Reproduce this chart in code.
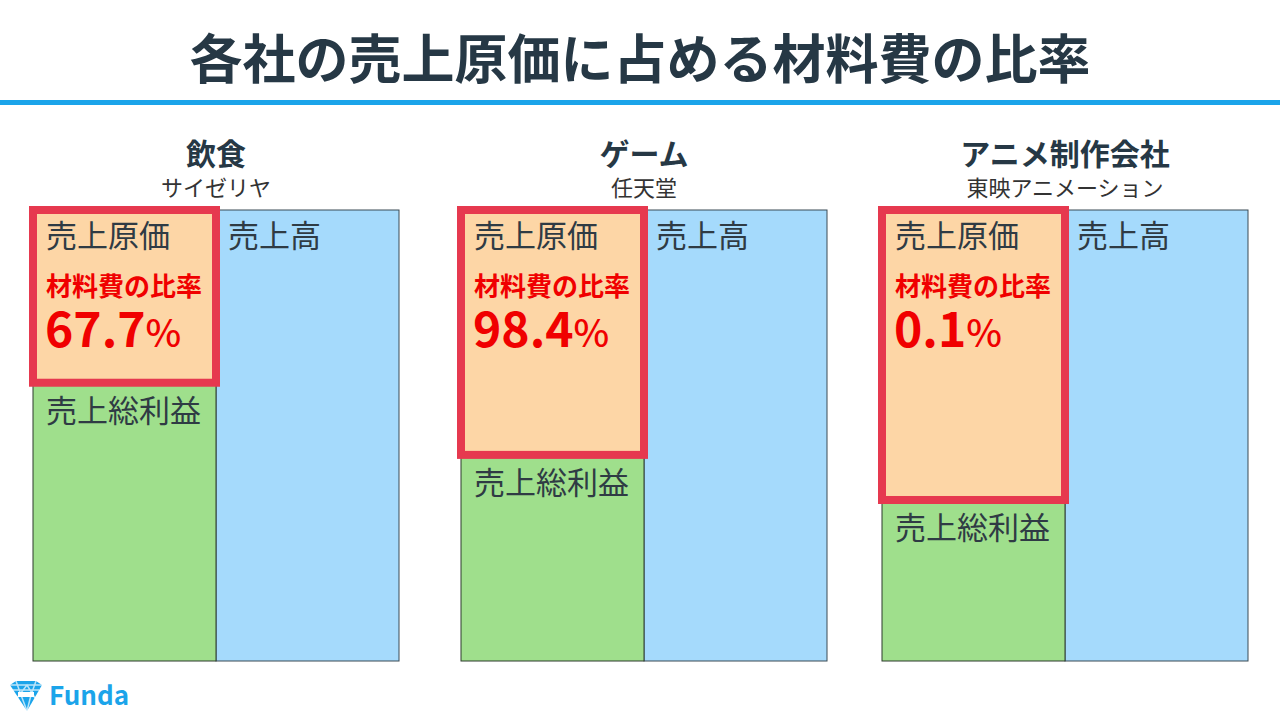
<!DOCTYPE html>
<html>
<head>
<meta charset="utf-8">
<script src="https://cdn.jsdelivr.net/npm/d3@7"></script>
<style>
  html, body { margin: 0; padding: 0; background: #fff; }
  text { font-family: "Noto Sans CJK JP", "Noto Sans", sans-serif; }
</style>
</head>
<body>
<div id="chart"></div>
<script>
"use strict";
// panels: industry, company, cost of sales share of sales (%), material share of cost (%)
var categories = ["飲食", "ゲーム", "アニメ制作会社"];
var companies = ["サイゼリヤ", "任天堂", "東映アニメーション"];
var costShare = [38.3, 54.3, 64.3];
var materialRatio = [67.7, 98.4, 0.1];

var w = 1280,
  h = 720,
  colW = 183;

var svg = d3
  .select("#chart")
  .append("svg")
  .attr("width", w)
  .attr("height", h);

// title + rule
svg
  .append("text")
  .attr("x", 640)
  .attr("y", 79)
  .attr("text-anchor", "middle")
  .attr("font-size", 53)
  .attr("font-weight", 700)
  .attr("fill", "#263845")
  .text("各社の売上原価に占める材料費の比率");

svg
  .append("rect")
  .attr("x", 0)
  .attr("y", 100)
  .attr("width", w)
  .attr("height", 5)
  .attr("fill", "#1ba4ea");

//panel centres (column boundary)
var x = d3
  .scaleOrdinal()
  .domain(categories)
  .range([216, 644, 1065]);

var y = d3
  .scaleLinear()
  .domain([0, 100])
  .range([210, 661]);

var panels = svg
  .selectAll(".panel")
  .data(categories)
  .enter()
  .append("g")
  .attr("class", "panel")
  .attr("transform", function(d) {
    return "translate(" + x(d) + ",0)";
  });

panels
  .append("text")
  .attr("y", 165)
  .attr("text-anchor", "middle")
  .attr("font-size", 30)
  .attr("font-weight", 700)
  .attr("fill", "#263845")
  .text(function(d) {
    return d;
  });

panels
  .append("text")
  .attr("y", 196)
  .attr("text-anchor", "middle")
  .attr("font-size", 22)
  .attr("fill", "#333")
  .text(function(d, i) {
    return companies[i];
  });

// sales column (right)
panels
  .append("rect")
  .attr("x", 0)
  .attr("y", y(0))
  .attr("width", colW)
  .attr("height", y(100) - y(0))
  .attr("fill", "#a5dafc")
  .attr("stroke", "#3a4a55")
  .attr("stroke-width", 1);

// gross profit (left, below cost)
panels
  .append("rect")
  .attr("x", -colW)
  .attr("y", function(d, i) {
    return y(costShare[i]);
  })
  .attr("width", colW)
  .attr("height", function(d, i) {
    return y(100) - y(costShare[i]);
  })
  .attr("fill", "#9fdf8c")
  .attr("stroke", "#2d3a2d")
  .attr("stroke-width", 1);

// cost of sales (left, top)
panels
  .append("rect")
  .attr("x", -colW)
  .attr("y", y(0))
  .attr("width", colW)
  .attr("height", function(d, i) {
    return y(costShare[i]) - y(0);
  })
  .attr("fill", "#fdd6a6");

// red highlight around cost
panels
  .append("rect")
  .attr("x", -colW)
  .attr("y", y(0))
  .attr("width", colW)
  .attr("height", function(d, i) {
    return y(costShare[i]) - y(0);
  })
  .attr("fill", "none")
  .attr("stroke", "#e6394f")
  .attr("stroke-width", 8);

panels
  .append("text")
  .attr("x", -colW + 13)
  .attr("y", 247)
  .attr("font-size", 31)
  .attr("fill", "#2f3b44")
  .text("売上原価");

panels
  .append("text")
  .attr("x", 12)
  .attr("y", 247)
  .attr("font-size", 31)
  .attr("fill", "#2f3b44")
  .text("売上高");

panels
  .append("text")
  .attr("x", function(d, i) {
    return -colW + 13;
  })
  .attr("y", function(d, i) {
    return y(costShare[i]) + 39;
  })
  .attr("font-size", 31)
  .attr("fill", "#2f3b44")
  .text("売上総利益");

panels
  .append("text")
  .attr("x", -colW + 13)
  .attr("y", 296)
  .attr("font-size", 26)
  .attr("font-weight", 700)
  .attr("fill", "#f00000")
  .text("材料費の比率");

var pct = panels
  .append("text")
  .attr("x", -colW + 12)
  .attr("y", 347)
  .attr("font-weight", 700)
  .attr("fill", "#f00000");

pct
  .append("tspan")
  .attr("font-size", 48)
  .text(function(d, i) {
    return materialRatio[i].toFixed(1);
  });

pct
  .append("tspan")
  .attr("font-size", 38)
  .attr("font-weight", 500)
  .text("%");

// Funda logo
var logo = svg.append("g").attr("transform", "translate(10,681)");
logo
  .append("path")
  .attr("d", "M0,4 L6,0 L26,0 L32,4 L17,30 Z")
  .attr("fill", "#1ba4ea");
logo
  .append("path")
  .attr("d", "M0,4 L32,4 M6,0 L11,14 L17,30 M26,0 L21,14 L17,30 M3,9 L29,9 M11,14 L21,14 M7,17 L17,4 L25,17")
  .attr("stroke", "#fff")
  .attr("stroke-width", 1.5)
  .attr("fill", "none")
  .attr("opacity", 0.7);
logo
  .append("rect")
  .attr("x", 8)
  .attr("y", 11)
  .attr("width", 16)
  .attr("height", 5)
  .attr("fill", "#fff");

svg
  .append("text")
  .attr("x", 49)
  .attr("y", 705)
  .attr("font-size", 26)
  .attr("font-weight", 700)
  .attr("fill", "#1ba4ea")
  .text("Funda");
</script>
</body>
</html>
